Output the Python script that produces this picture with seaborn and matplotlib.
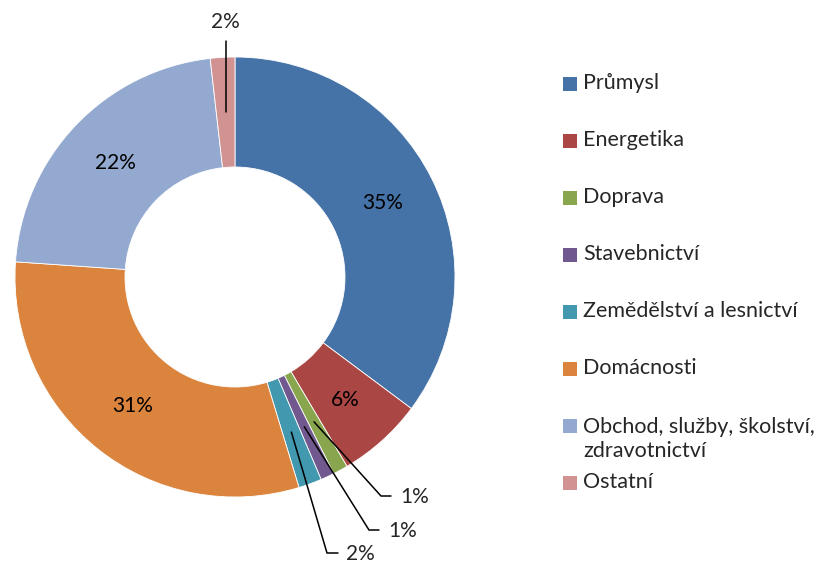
import matplotlib
matplotlib.use('Agg')
import matplotlib.pyplot as plt
import seaborn as sns
import numpy as np
from matplotlib.patches import Rectangle

# data (percent of total)
categories = ['Průmysl', 'Energetika', 'Doprava', 'Stavebnictví',
              'Zemědělství a lesnictví', 'Domácnosti',
              'Obchod, služby, školství,\nzdravotnictví', 'Ostatní']
shares = [35.2, 6.3, 1.1, 1.0, 1.7, 30.8, 22.1, 1.8]
colors = ['#4572A7', '#AA4643', '#89A54E', '#71588F',
          '#4198AF', '#DB843D', '#93A9CF', '#D19392']

sns.set_theme(style='white')
plt.rcParams['font.family'] = ['Lato', 'DejaVu Sans']
FS = 15       # percent labels
LFS = 15.5    # legend

W, H = 823, 566
CX, CY, R = 235, 277, 220   # pie centre / radius in pixels


def px(x, y):
    '''pixel position -> data coords (pie radius = 1)'''
    return (x - CX) / R, (CY - y) / R


fig = plt.figure(figsize=(W / 100, H / 100), dpi=100)
ax = fig.add_axes([0, 0, 1, 1])

wedges, _, autotexts = ax.pie(
    shares, colors=colors, startangle=90, counterclock=False, radius=1,
    autopct=lambda p: f'{p:.0f}%', pctdistance=0.75,
    wedgeprops=dict(width=0.5, edgecolor='white', linewidth=0.6),
    textprops=dict(fontsize=FS, color='black'))

# small slices get leader lines instead of inside labels
leaders = {
    2: ((381, 496), (391, 496), (400, 497)),
    3: ((369, 530), (379, 530), (388, 531)),
    4: ((327, 553), (338, 553), (346, 554)),
}
for i, (elbow, end, txt) in leaders.items():
    autotexts[i].set_visible(False)
    w = wedges[i]
    th = np.deg2rad((w.theta1 + w.theta2) / 2)
    sx, sy = 0.75 * np.cos(th), 0.75 * np.sin(th)
    ex, ey = px(*elbow)
    fx, fy = px(*end)
    ax.plot([sx, ex, fx], [sy, ey, fy], color='black', lw=1.1)
    tx, ty = px(*txt)
    ax.text(tx, ty, f'{shares[i]:.0f}%', fontsize=FS, ha='left', va='center')

# Ostatni: vertical leader to the top
autotexts[7].set_visible(False)
w = wedges[7]
th = np.deg2rad((w.theta1 + w.theta2) / 2)
sx, sy = 0.75 * np.cos(th), 0.75 * np.sin(th)
ax.plot([sx, sx], [sy, px(0, 41)[1]], color='black', lw=1.1)
ax.text(sx, px(0, 22)[1], f'{shares[7]:.0f}%', fontsize=FS, ha='center', va='center')

# legend drawn by hand (Excel style spacing)
leg_y = [84, 141, 198, 255, 312, 369, 426, 483]
for cat, col, y in zip(categories, colors, leg_y):
    x0, y0 = px(563, y + 7)
    ax.add_patch(Rectangle((x0, y0), 14 / R, 14 / R, facecolor=col, edgecolor='none'))
    if '\n' in cat:
        tx, ty = px(583, y + 13)
    else:
        tx, ty = px(583, y - 1)
    ax.text(tx, ty, cat, fontsize=LFS, ha='left', va='center', linespacing=1.28)

ax.set_aspect('auto')
ax.set_xlim(px(0, 0)[0], px(W, 0)[0])
ax.set_ylim(px(0, H)[1], px(0, 0)[1])
ax.axis('off')

fig.savefig('out.png', dpi=100, facecolor='white')
